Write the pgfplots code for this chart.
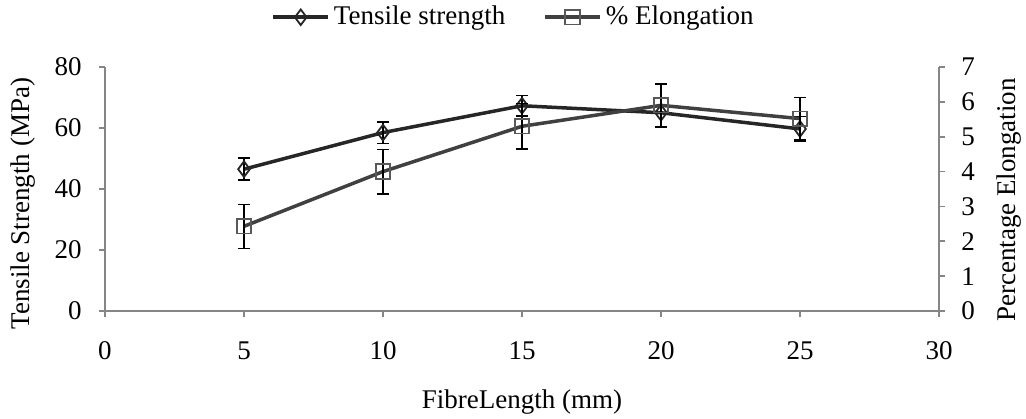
\documentclass[border=0pt]{standalone}
\usepackage{pgfplots}
\pgfplotsset{compat=1.18}
\usepackage{fontspec}
\setmainfont{Liberation Serif}
\definecolor{axgray}{HTML}{868686}
\definecolor{tsline}{HTML}{262626}
\definecolor{elline}{HTML}{404040}
\definecolor{elmark}{HTML}{595959}
\pgfplotsset{
  base/.style={
    scale only axis, width=417pt, height=122pt,
    xmin=0, xmax=30, at={(0,0)}, anchor=south west,
    /pgf/number format/assume math mode=true,
    axis line style={axgray, line width=0.8pt},
    tick style={axgray, line width=0.8pt},
    tick align=outside, major tick length=3pt,
    clip=false,
  },
  tstyle/.style={tsline, line width=1.75pt, mark=diamond, mark size=3.9pt,
    mark options={solid, draw=tsline, fill=none, line width=0.9pt}},
  estyle/.style={elline, line width=1.75pt, mark=square, mark size=3.6pt,
    mark options={solid, draw=elmark, fill=none, line width=0.9pt}},
  ebars/.style={error bars/.cd, y dir=both, y explicit,
    error bar style={black, line width=0.75pt},
    error mark options={rotate=90, black, mark size=3pt, line width=0.75pt},
    /pgfplots/.cd},
  mylegend/.style={legend image code/.code={
    \draw[mark repeat=2, mark phase=2, #1] plot coordinates {(0pt,0pt) (13.75pt,0pt) (27.5pt,0pt)};}},
}
\begin{document}
\fontsize{13.5}{16}\selectfont
\begin{tikzpicture}
\useasboundingbox (-52.5pt,-53.5pt) rectangle (460.5pt,155.5pt);
\begin{axis}[base,
  axis x line*=bottom, axis y line*=left,
  ymin=0, ymax=80, ytick={0,20,40,60,80},
  xtick={0,5,10,15,20,25,30},
  xticklabel style={yshift=-7.5pt},
  yticklabel style={xshift=-4pt},
  xlabel={FibreLength (mm)},
  xlabel style={at={(rel axis cs:0.5,-0.373)}, anchor=center},
  ylabel={Tensile Strength (MPa)},
  ylabel style={at={(rel axis cs:-0.098,0.44)}, anchor=center, rotate=0},
]
\addplot[tstyle, ebars] coordinates {
  (5,46.5) +- (0,3.6)
  (10,58.5) +- (0,3.5)
  (15,67.3) +- (0,3.3)
  (20,65.0) +- (0,4.8)
  (25,59.7) +- (0,4.0)
};
\end{axis}
\begin{axis}[base,
  axis x line=none, axis y line*=right,
  ymin=0, ymax=7, ytick={0,1,2,3,4,5,6,7},
  yticklabel style={xshift=3.5pt},
  ylabel={Percentage Elongation},
  ylabel style={at={(rel axis cs:1.084,0.455)}, anchor=center, rotate=0},
  legend columns=2,
  legend style={draw=none, fill=none, at={(rel axis cs:0.491,1.204)}, anchor=center,
    /tikz/every even column/.append style={column sep=17pt}},
  legend cell align=left,
]
\addlegendimage{tstyle, mylegend={}}
\addlegendentry{Tensile strength}
\addplot[estyle, mylegend={}, ebars] coordinates {
  (5,2.43) +- (0,0.63)
  (10,4.0) +- (0,0.64)
  (15,5.3) +- (0,0.65)
  (20,5.9) +- (0,0.62)
  (25,5.52) +- (0,0.6)
};
\addlegendentry{\% Elongation}
\end{axis}
\end{tikzpicture}
\end{document}
